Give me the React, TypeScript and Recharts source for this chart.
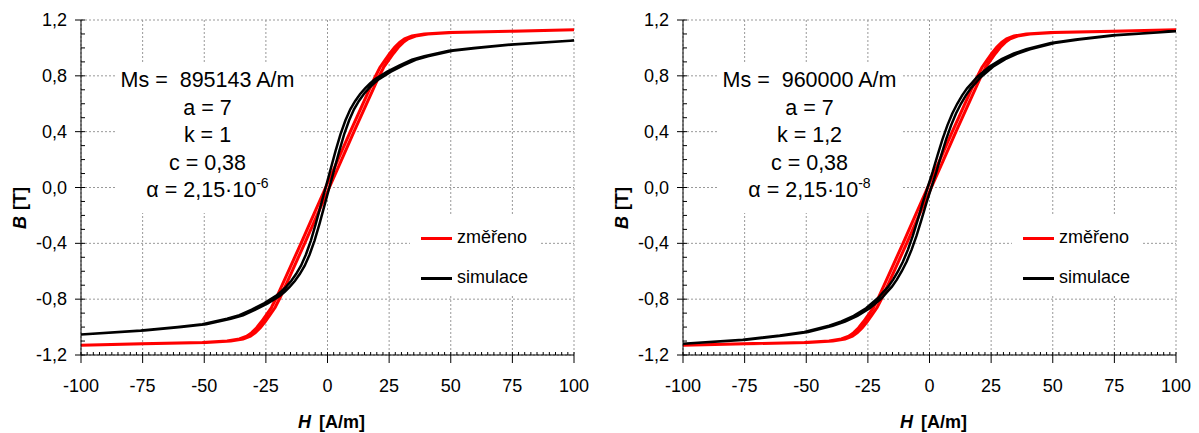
import { LineChart, Line, XAxis, YAxis, CartesianGrid, Legend } from "recharts"

const FONT = "'Liberation Sans', Arial, sans-serif"

const xMajor = [-100, -75, -50, -25, 0, 25, 50, 75, 100]
const yMajor = [-1.2, -0.8, -0.4, 0, 0.4, 0.8, 1.2]
const yLabels = ["-1,2", "-0,8", "-0,4", "0,0", "0,4", "0,8", "1,2"]
const xMinor = Array.from({ length: 81 }, (_, i) => -100 + i * 2.5)
const yMinor = Array.from({ length: 25 }, (_, i) => Math.round((-1.2 + i * 0.1) * 10) / 10)
const legendNames = ["změřeno", "simulace"]

// změřeno - the same measured loop in both panels
const hMeasDown = [100, 74.25, 49.25, 39.25, 34.25, 31.25, 29.25, 27.25, 25.25, 23.25, 21.25, 19.25, 14.25, 9.25, 4.25, -0.75, -5.75, -10.75, -15.75, -20.75, -22.75, -24.75, -26.75, -28.75, -30.75, -32.75, -35.75, -40.75, -50.75, -75.75, -100]
const bMeasDown = [1.13, 1.12, 1.11, 1.1, 1.085, 1.065, 1.04, 1.005, 0.96, 0.91, 0.86, 0.79, 0.595, 0.4, 0.2, 0, -0.2, -0.4, -0.595, -0.79, -0.86, -0.91, -0.96, -1.005, -1.04, -1.065, -1.085, -1.1, -1.11, -1.12, -1.13]
const hMeasUp = [-100, -74.25, -49.25, -39.25, -34.25, -31.25, -29.25, -27.25, -25.25, -23.25, -21.25, -19.25, -14.25, -9.25, -4.25, 0.75, 5.75, 10.75, 15.75, 20.75, 22.75, 24.75, 26.75, 28.75, 30.75, 32.75, 35.75, 40.75, 50.75, 75.75, 100]
const bMeasUp = [-1.13, -1.12, -1.11, -1.1, -1.085, -1.065, -1.04, -1.005, -0.96, -0.91, -0.86, -0.79, -0.595, -0.4, -0.2, 0, 0.2, 0.4, 0.595, 0.79, 0.86, 0.91, 0.96, 1.005, 1.04, 1.065, 1.085, 1.1, 1.11, 1.12, 1.13]

// simulace
const hSimDown = [100, 74.25, 59.25, 49.25, 39.25, 34.25, 29.25, 24.25, 19.25, 17.25, 15.25, 13.25, 11.25, 9.25, 7.25, 5.25, 3.25, 1.25, -0.75, -2.75, -4.75, -6.75, -8.75, -10.75, -12.75, -14.75, -16.75, -18.75, -20.75, -25.75, -30.75, -35.75, -40.75, -50.75, -60.75, -75.75, -100]
const hSimUp = [-100, -74.25, -59.25, -49.25, -39.25, -34.25, -29.25, -24.25, -19.25, -17.25, -15.25, -13.25, -11.25, -9.25, -7.25, -5.25, -3.25, -1.25, 0.75, 2.75, 4.75, 6.75, 8.75, 10.75, 12.75, 14.75, 16.75, 18.75, 20.75, 25.75, 30.75, 35.75, 40.75, 50.75, 60.75, 75.75, 100]

const bSim1Down = [1.053, 1.025, 1.0, 0.98, 0.94, 0.915, 0.875, 0.83, 0.775, 0.745, 0.71, 0.67, 0.62, 0.56, 0.48, 0.38, 0.26, 0.13, 0, -0.13, -0.26, -0.38, -0.48, -0.56, -0.62, -0.67, -0.71, -0.745, -0.775, -0.83, -0.875, -0.915, -0.94, -0.98, -1.0, -1.025, -1.053]
const bSim1Up = [-1.053, -1.025, -1.0, -0.98, -0.94, -0.915, -0.875, -0.83, -0.775, -0.745, -0.71, -0.67, -0.62, -0.56, -0.48, -0.38, -0.26, -0.13, 0, 0.13, 0.26, 0.38, 0.48, 0.56, 0.62, 0.67, 0.71, 0.745, 0.775, 0.83, 0.875, 0.915, 0.94, 0.98, 1.0, 1.025, 1.053]

const bSim2Down = [1.12, 1.09, 1.06, 1.035, 0.99, 0.96, 0.92, 0.865, 0.79, 0.75, 0.71, 0.66, 0.6, 0.53, 0.445, 0.345, 0.23, 0.11, 0, -0.11, -0.23, -0.345, -0.445, -0.53, -0.6, -0.66, -0.71, -0.75, -0.79, -0.865, -0.92, -0.96, -0.99, -1.035, -1.06, -1.09, -1.12]
const bSim2Up = [-1.12, -1.09, -1.06, -1.035, -0.99, -0.96, -0.92, -0.865, -0.79, -0.75, -0.71, -0.66, -0.6, -0.53, -0.445, -0.345, -0.23, -0.11, 0, 0.11, 0.23, 0.345, 0.445, 0.53, 0.6, 0.66, 0.71, 0.75, 0.79, 0.865, 0.92, 0.96, 0.99, 1.035, 1.06, 1.09, 1.12]

const panel1Params = ["Ms =  895143 A/m", "a = 7", "k = 1", "c = 0,38"]
const panel2Params = ["Ms =  960000 A/m", "a = 7", "k = 1,2", "c = 0,38"]

const loop = (hd: number[], bd: number[], hu: number[], bu: number[]) => [
  ...hd.map((h, i) => ({ h, b: bd[i] })),
  ...hu.map((h, i) => ({ h, b: bu[i] })),
]

const measured = loop(hMeasDown, bMeasDown, hMeasUp, bMeasUp)

const near = (list: number[], v: number) => list.some((m) => Math.abs(m - v) < 1e-6)

const XTick = (props: any) => {
  const { x, y, payload } = props
  const major = near(xMajor, payload.value)
  return (
    <g>
      <line x1={x} x2={x} y1={y - 3} y2={major ? y + 8 : y} stroke="#000" strokeWidth={1} />
      {major && (
        <text x={x} y={y + 37} textAnchor="middle" fontSize={18} fontFamily={FONT} fill="#000">
          {payload.value}
        </text>
      )}
    </g>
  )
}

const YTick = (props: any) => {
  const { x, y, payload } = props
  const idx = yMajor.findIndex((m) => Math.abs(m - payload.value) < 1e-6)
  return (
    <g>
      <line x1={idx >= 0 ? x - 6 : x} x2={x + 4} y1={y} y2={y} stroke="#000" strokeWidth={1} />
      {idx >= 0 && (
        <text x={x - 14} y={y + 6} textAnchor="end" fontSize={18} fontFamily={FONT} fill="#000">
          {yLabels[idx]}
        </text>
      )}
    </g>
  )
}

const renderLegend = (props: any) => {
  const items = [...(props.payload || [])].sort(
    (a: any, b: any) => legendNames.indexOf(a.value) - legendNames.indexOf(b.value)
  )
  return (
    <div style={{ width: 129, height: 79, background: "#fff", position: "relative", fontFamily: FONT, fontSize: 18 }}>
      {items.map((it: any, i: number) => (
        <div key={i} style={{ position: "absolute", left: 11, top: 22 + i * 40 - 11, height: 22, display: "flex", alignItems: "center" }}>
          <span style={{ display: "inline-block", width: 31, height: 3, background: it.color }} />
          <span style={{ marginLeft: 5, color: "#000", lineHeight: "22px", marginTop: -2 }}>{it.value}</span>
        </div>
      ))}
    </div>
  )
}

function Panel({ left, sim, params, exp }: { left: number; sim: { h: number; b: number }[]; params: string[]; exp: string }) {
  return (
    <div style={{ position: "absolute", left, top: 0, width: 597, height: 433 }}>
      <LineChart width={597} height={433} margin={{ top: 20, right: 23, left: 0, bottom: 0 }}>
        <CartesianGrid stroke="#999" strokeDasharray="2 2" horizontalValues={yMajor} verticalValues={xMajor} />
        <XAxis
          dataKey="h"
          type="number"
          domain={[-100, 100]}
          ticks={xMinor}
          interval={0}
          tickSize={0}
          tickMargin={0}
          tickLine={false}
          tick={(p: any) => <XTick {...p} />}
          axisLine={{ stroke: "#000" }}
          height={78}
          allowDataOverflow
          label={{
            content: (p: any) => {
              const vb = p.viewBox
              return (
                <text x={vb.x + vb.width / 2 + 4} y={vb.y + 73} textAnchor="middle" fontSize={18} fontWeight="bold" fontFamily={FONT} fill="#000">
                  <tspan fontStyle="italic">H</tspan>
                  <tspan dx={8}>[A/m]</tspan>
                </text>
              )
            },
          }}
        />
        <YAxis
          type="number"
          domain={[-1.2, 1.2]}
          ticks={yMinor}
          interval={0}
          tickSize={0}
          tickMargin={0}
          tickLine={false}
          tick={(p: any) => <YTick {...p} />}
          axisLine={{ stroke: "#000" }}
          width={81}
          allowDataOverflow
          label={{
            content: () => (
              <text x={0} y={0} transform="translate(26, 208) rotate(-90)" textAnchor="middle" fontSize={18} fontWeight="bold" fontFamily={FONT} fill="#000">
                <tspan fontStyle="italic">B</tspan>
                <tspan dx={6}>[T]</tspan>
              </text>
            ),
          }}
        />
        <Legend
          layout="horizontal"
          verticalAlign="middle"
          align="center"
          content={renderLegend}
          wrapperStyle={{ position: "absolute", left: 410, top: 216, width: 129, height: 79 }}
        />
        <Line data={measured} dataKey="b" name="změřeno" type="linear" stroke="#ff0000" strokeWidth={3} dot={false} isAnimationActive={false} />
        <Line data={sim} dataKey="b" name="simulace" type="linear" stroke="#000000" strokeWidth={2.5} dot={false} isAnimationActive={false} />
      </LineChart>
      <div
        style={{
          position: "absolute",
          left: 115,
          top: 62,
          width: 185,
          height: 151,
          background: "#fff",
          fontFamily: FONT,
          fontSize: 21.5,
          lineHeight: "27.5px",
          textAlign: "center",
          paddingTop: 5,
          boxSizing: "border-box",
          color: "#000",
        }}
      >
        {params.map((t, i) => (
          <div key={i} style={{ whiteSpace: "pre" }}>{t}</div>
        ))}
        <div style={{ whiteSpace: "pre" }}>
          α = 2,15·10<span style={{ fontSize: 14, position: "relative", top: -9 }}>{exp}</span>
        </div>
      </div>
    </div>
  )
}

export default function App() {
  const sim1 = loop(hSimDown, bSim1Down, hSimUp, bSim1Up)
  const sim2 = loop(hSimDown, bSim2Down, hSimUp, bSim2Up)
  return (
    <div style={{ position: "absolute", left: 0, top: 0, width: 1199, height: 433, background: "#fff", overflow: "hidden" }}>
      <Panel left={0} sim={sim1} params={panel1Params} exp="-6" />
      <Panel left={602} sim={sim2} params={panel2Params} exp="-8" />
    </div>
  )
}
